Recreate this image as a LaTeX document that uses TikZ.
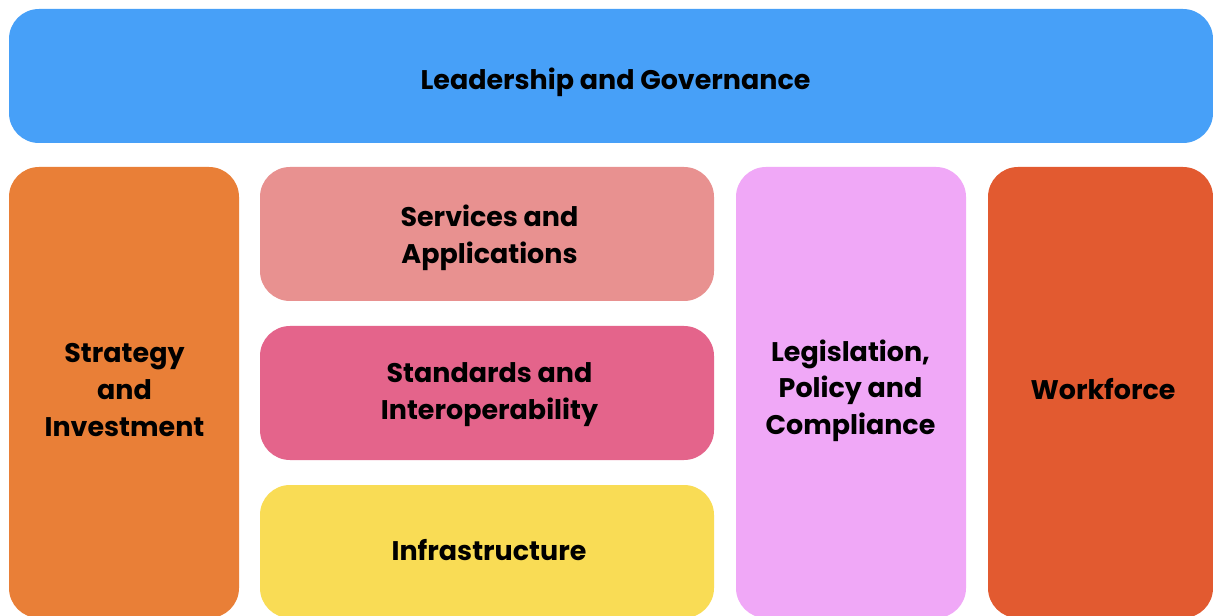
\documentclass[tikz,border=0pt]{standalone}
\usepackage{fontspec}
\setmainfont{Poppins}
\definecolor{cblue}{HTML}{47A0F8}
\definecolor{corange}{HTML}{E97F37}
\definecolor{csalmon}{HTML}{E89190}
\definecolor{cpink}{HTML}{E4648B}
\definecolor{cyellow}{HTML}{F9DC55}
\definecolor{clilac}{HTML}{F0A8F7}
\definecolor{cred}{HTML}{E25A30}
\tikzset{
  blk/.style={rectangle, rounded corners=22.5pt, inner sep=0pt},
  lbl/.style={inner sep=0pt, align=center, anchor=base, text=black,
    font=\fontsize{20.2pt}{27.4pt}\selectfont\bfseries},
}
\begin{document}
\begin{tikzpicture}[x=0.75pt,y=-0.75pt]
\useasboundingbox (0,0) rectangle (1213,616);
\clip (0,0) rectangle (1213,616);
\fill[white] (0,0) rectangle (1213,616);
\node[blk, fill=cblue, minimum width=1204*0.75pt, minimum height=134*0.75pt] (lead) at (611,76) {};
\node[blk, fill=corange, minimum width=230*0.75pt, minimum height=451*0.75pt] (strat) at (124,392.5) {};
\node[blk, fill=csalmon, minimum width=454*0.75pt, minimum height=134*0.75pt] (serv) at (487,234) {};
\node[blk, fill=cpink, minimum width=454*0.75pt, minimum height=134*0.75pt] (stand) at (487,393) {};
\node[blk, fill=cyellow, minimum width=454*0.75pt, minimum height=133*0.75pt] (infra) at (487,551.5) {};
\node[blk, fill=clilac, minimum width=230*0.75pt, minimum height=451*0.75pt] (legis) at (851,392.5) {};
\node[blk, fill=cred, minimum width=225*0.75pt, minimum height=451*0.75pt] (work) at (1100.5,392.5) {};
\node[lbl] (leadtext) at (615.5,90) {Leadership and Governance};
\node[lbl] (servtext) at (489.5,263.5) {Services and\\Applications};
\node[lbl] (standtext) at (489.5,419.5) {Standards and\\Interoperability};
\node[lbl] (infratext) at (489,560.5) {Infrastructure};
\node[lbl] (strattext) at (124.5,436) {Strategy\\and\\Investment};
\node[lbl] (legistext) at (850.5,434.5) {Legislation,\\Policy and\\Compliance};
\node[lbl] (worktext) at (1103,399) {Workforce};
\end{tikzpicture}
\end{document}
